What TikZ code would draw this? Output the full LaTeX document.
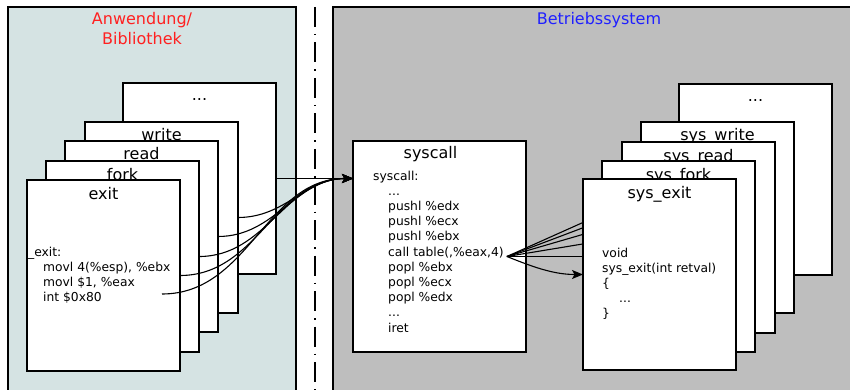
\documentclass[tikz,border=0pt]{standalone}
\usepackage{fontspec}
\setmainfont{DejaVu Sans}
\usetikzlibrary{arrows.meta}
\definecolor{appbg}{HTML}{D5E3E3}
\definecolor{osbg}{HTML}{BEBEBE}
\definecolor{hdred}{HTML}{FF2020}
\definecolor{hdblue}{HTML}{2020FF}
\begin{document}
\begin{tikzpicture}[x=1pt,y=-1pt,
  panel/.style={draw=black,line width=2pt},
  card/.style={draw=black,line width=1.4pt,fill=white,minimum width=153pt,minimum height=191pt,anchor=north west,inner sep=0pt,outer sep=0pt},
  cardtitle/.style={font=\fontsize{16}{19}\selectfont,anchor=base,inner sep=0pt},
  code/.style={font=\fontsize{12.3}{14}\selectfont,anchor=base west,inner sep=0pt},
  heading/.style={font=\fontsize{16}{20}\selectfont,anchor=base,inner sep=0pt},
  conn/.style={line width=1.1pt},
  tip/.style={-{Stealth[length=11pt,width=9pt,inset=2.5pt]}}
]
\useasboundingbox (0,0) rectangle (850,390);
\clip (0,0) rectangle (850,390);
% panels
\path[panel,fill=appbg] (8,7) rectangle (296,400);
\path[panel,fill=osbg] (333,7) rectangle (880,400);
\draw[line width=1.1pt,dash pattern=on 20pt off 7pt on 1.5pt off 7pt] (315,7) -- (315,392);
% headings
\node[heading,text=hdred] (h1) at (142,25) {Anwendung/};
\node[heading,text=hdred] (h1b) at (142,45) {Bibliothek};
\node[heading,text=hdblue] (h2) at (599,25) {Betriebssystem};
% left stack
\node[card] (adots) at (123,83) {};
\node[cardtitle] (tadots) at ([yshift=-18pt]adots.north) {...};
\node[card] (awrite) at (85,122) {};
\node[cardtitle] (tawrite) at ([yshift=-19pt]awrite.north) {write};
\node[card] (aread) at (65,141) {};
\node[cardtitle] (taread) at ([yshift=-19pt]aread.north) {read};
\node[card] (afork) at (46,161) {};
\node[cardtitle] (tafork) at ([yshift=-19pt]afork.north) {fork};
\node[card] (aexit) at (27,180) {};
\node[cardtitle] (taexit) at ([yshift=-19pt]aexit.north) {exit};
\node[code] (e1) at (28,256) {\_exit:};
\node[code] (e2) at (43,271) {movl 4(\%esp), \%ebx};
\node[code] (e3) at (43,286) {movl \$1, \%eax};
\node[code] (e4) at (43,301) {int \$0x80};
% syscall box
\node[draw=black,line width=1.4pt,fill=white,minimum width=173pt,minimum height=211pt,anchor=north west,inner sep=0pt,outer sep=0pt] (sys) at (353,141) {};
\node[cardtitle] (tsys) at ([xshift=-9pt,yshift=-18pt]sys.north) {syscall};
\node[code] (s1) at (373,180) {syscall:};
\node[code] (s2) at (388,195.2) {...};
\node[code] (s3) at (388,210.4) {pushl \%edx};
\node[code] (s4) at (388,225.6) {pushl \%ecx};
\node[code] (s5) at (388,240.8) {pushl \%ebx};
\node[code] (s6) at (388,256) {call table(,\%eax,4)};
\node[code] (s7) at (388,271.2) {popl \%ebx};
\node[code] (s8) at (388,286.4) {popl \%ecx};
\node[code] (s9) at (388,301.6) {popl \%edx};
\node[code] (s10) at (388,316.8) {...};
\node[code] (s11) at (388,332) {iret};
% left connectors
\coordinate (sysin) at (sys.west |- adots.east);
\coordinate (exitret) at (162,294);
\draw[conn,tip] (adots.east) -- (sysin);
\draw[conn,tip] (awrite.east) to[out=0,in=180] (sysin);
\draw[conn,tip] (aread.east) to[out=0,in=180] (sysin);
\draw[conn,tip] (afork.east) to[out=0,in=180] (sysin);
\draw[conn,tip] (aexit.east) to[out=0,in=180] (sysin);
\draw[conn,tip] (exitret) to[out=0,in=180] (sysin);
% right stack
\node[card] (bdots) at (679,84) {};
\node[cardtitle] (tbdots) at ([yshift=-18pt]bdots.north) {...};
\node[card] (bwrite) at (641,122) {};
\node[cardtitle] (tbwrite) at ([yshift=-19pt]bwrite.north) {sys\_write};
\node[card] (bread) at (622,142) {};
\node[cardtitle] (tbread) at ([yshift=-19pt]bread.north) {sys\_read};
\node[card] (bfork) at (602,161) {};
\node[cardtitle] (tbfork) at ([yshift=-19pt]bfork.north) {sys\_fork};
% right connectors (under sys_exit)
\coordinate (callpt) at ([xshift=3pt,yshift=-0.5pt]s6.base east);
\draw[conn] (callpt) -- (bdots.west);
\draw[conn] (callpt) -- ([yshift=-12pt]bdots.west);
\draw[conn] (callpt) -- (bwrite.west);
\draw[conn] (callpt) -- (bread.west);
\draw[conn] (callpt) -- (bfork.west);
\node[card] (bexit) at (583,179) {};
\node[cardtitle] (tbexit) at ([yshift=-19pt]bexit.north) {sys\_exit};
\node[code] (x1) at (602,257) {void};
\node[code] (x2) at (602,272) {sys\_exit(int retval)};
\node[code] (x3) at (602,287) {\{};
\node[code] (x4) at (619,302) {...};
\node[code] (x5) at (602,317) {\}};
\draw[conn,tip] (callpt) .. controls +(25,10) and +(-30,0) .. (bexit.west);
\end{tikzpicture}
\end{document}
